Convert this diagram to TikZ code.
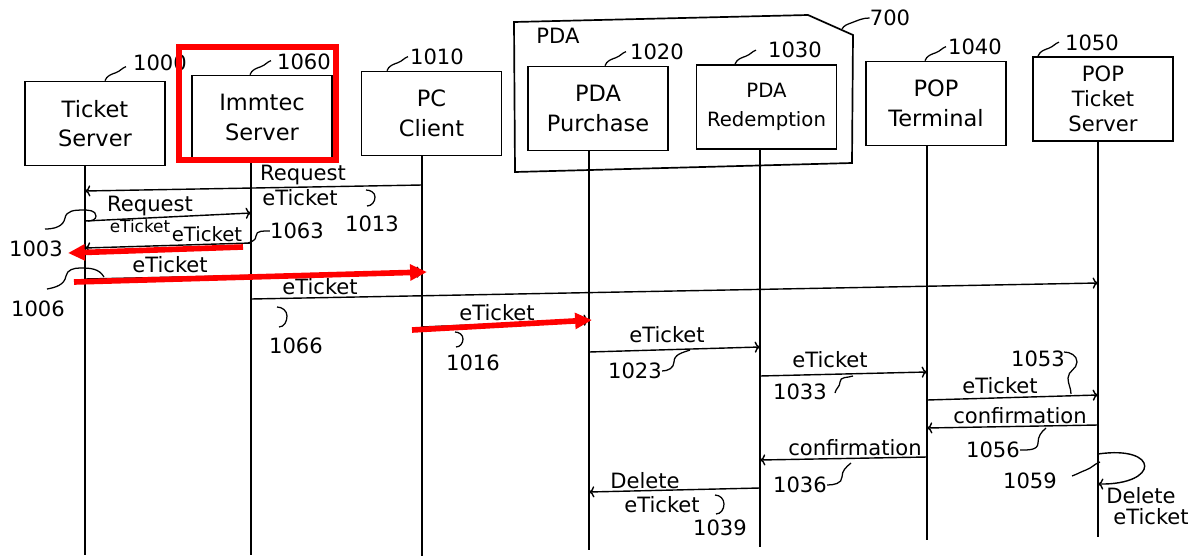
\documentclass[tikz,border=0pt]{standalone}
\usepackage{fontspec}
\setmainfont{DejaVu Sans}
\usetikzlibrary{arrows,arrows.meta}

\begin{document}
\begin{tikzpicture}[x=0.025cm,y=-0.025cm,
		box/.style={draw, line width=1.2pt, minimum width=3.5cm, minimum height=2.1cm, align=center, inner sep=0pt, font=\fontsize{16}{21}\selectfont},
		msg/.style={->, line width=1pt},
		txt/.style={inner sep=0pt, font=\fontsize{15}{18}\selectfont},
		lead/.style={line width=0.9pt},
		hlbox/.style={draw=red, line width=4pt},
		hlarrow/.style={draw=red, line width=4pt, -{Triangle[length=12pt,width=11pt]}}]
	\useasboundingbox (0,0) rectangle (1193,560);

	% PDA housing
	\draw[line width=1.2pt] (514,22) -- (808,15) -- (853,35) -- (852,163) -- (515,172) -- cycle;
	\node[txt] (pda) at (558,36) {PDA};
	\node[txt] (r700) at (890,18) {700};
	\draw[lead] (842,29) to[out=60,in=200] (851,23) to[out=20,in=180] (r700.west);

	% parties
	\node[box] (ts) at (95,123.5) {Ticket\\Server};
	\node[box] (im) at (262,117.5) {Immtec\\Server};
	\node[box] (pc) at (431.5,113.5) {PC\\Client};
	\node[box] (pp) at (598,108.5) {PDA\\Purchase};
	\node[box, font=\fontsize{14}{21}\selectfont] (pr) at (766.5,107) {PDA\\Redemption};
	\node[box] (pt) at (936,103.5) {POP\\Terminal};
	\node[box, font=\fontsize{15}{18}\selectfont] (pts) at (1103,99) {POP\\Ticket\\Server};

	\node[txt] (r1000) at (160,63) {1000};
	\node[txt] (r1060) at (304,62) {1060};
	\node[txt] (r1010) at (437,57) {1010};
	\node[txt] (r1020) at (657,52) {1020};
	\node[txt] (r1030) at (795,50) {1030};
	\node[txt] (r1040) at (975,47) {1040};
	\node[txt] (r1050) at (1092,43) {1050};
	\foreach \n/\x in {ts/105, im/250, pc/387, pp/605, pr/735, pt/925, pts/1038}
	\draw[lead] (\n.north -| \x,0) to[out=70,in=200] ++(11,-8) to[out=20,in=200] ++(10,-6);

	% lifelines
	\foreach \n/\x/\b in {ts/85/555, im/251/555, pc/422/556, pp/589/550, pr/760/547, pt/927/540, pts/1098/537} {
		\coordinate (\n-l) at (\x,\b);
		\draw[line width=1.1pt] (\n.south -| \n-l) -- (\n-l);
	}

	% request from the PC client
	\draw[msg] (pc-l |- 0,185) -- (ts-l |- 0,191);
	\node[txt] (m1a) at (303,175) {Request};
	\node[txt] (m1b) at (300,198) {eTicket};
	\node[txt] (r1013) at (372,224) {1013};
	\draw[lead] (366,190) to[out=0,in=90] (375,197) to[out=-90,in=0] (367,206);

	% ticket server <-> immtec server
	\draw[msg] (ts-l |- 0,221) -- (im-l |- 0,213);
	\node[txt] (m2a) at (150,206) {Request};
	\node[txt, font=\fontsize{12}{14}\selectfont] (m2b) at (140,226) {eTicket};
	\draw[msg] (im-l |- 0,243) -- (ts-l |- 0,248);
	\node[txt, font=\fontsize{14}{16}\selectfont] (m3) at (207,234) {eTicket};
	\node[txt] (r1063) at (297,231) {1063};
	\draw[lead] (248,243) to[out=20,in=-90] (256,236) to[out=90,in=180] (r1063.west);
	\node[txt] (r1003) at (36,249) {1003};
	\draw[lead] (45,229) to[out=0,in=-100] (65,218) to[out=80,in=180] (82,210) to[out=0,in=90] (96,216) to[out=-90,in=0] (88,221);

	% eTicket to the PC client and to the POP ticket server
	\draw[msg] (ts-l |- 0,279) -- (pc-l |- 0,272);
	\node[txt] (m4) at (170,265) {eTicket};
	\node[txt] (r1006) at (38,309) {1006};
	\draw[lead] (47,289) to[out=10,in=-100] (66,276) to[out=80,in=180] (80,268) to[out=0,in=120] (104,277);
	\draw[msg] (im-l |- 0,299) -- (pts-l |- 0,283);
	\node[txt] (m5) at (320,287) {eTicket};
	\node[txt] (r1066) at (296,346) {1066};
	\draw[lead] (277,307) to[out=0,in=90] (287,316) to[out=-90,in=0] (279,327);

	% eTicket along the chain
	\draw[msg] (pc-l |- 0,327) -- (pp-l |- 0,320);
	\node[txt] (m6) at (497,313) {eTicket};
	\node[txt] (r1016) at (473,363) {1016};
	\draw[lead] (455,332) to[out=0,in=90] (463,339) to[out=-90,in=0] (456,347);

	\draw[msg] (pp-l |- 0,352) -- (pr-l |- 0,347);
	\node[txt] (m7) at (667,335) {eTicket};
	\node[txt] (r1023) at (635,371) {1023};
	\draw[lead] (r1023.east) to[out=0,in=-90] (674,362) to[out=90,in=200] (690,350);

	\draw[msg] (pr-l |- 0,376) -- (pt-l |- 0,372);
	\node[txt] (m8) at (830,360) {eTicket};
	\node[txt] (r1033) at (800,392) {1033};
	\draw[lead] (835,393) to[out=80,in=-90] (840,382) to[out=90,in=200] (853,376);

	\draw[msg] (pt-l |- 0,400) -- (pts-l |- 0,395);
	\node[txt] (m9) at (1000,386) {eTicket};
	\node[txt] (r1053) at (1038,359) {1053};
	\draw[lead] (1064,352) to[out=0,in=90] (1077,362) to[out=-90,in=90] (1068,378) to[out=-90,in=90] (1071,394);

	% confirmations
	\draw[msg] (pts-l |- 0,425) -- (pt-l |- 0,428);
	\node[txt] (m10) at (1020,416) {confirmation};
	\node[txt] (r1056) at (993,450) {1056};
	\draw[lead] (r1056.east) to[out=0,in=-90] (1038,443) to[out=90,in=220] (1046,428);

	\draw[msg] (pt-l |- 0,457) -- (pr-l |- 0,460);
	\node[txt] (m11) at (855,448) {confirmation};
	\node[txt] (r1036) at (800,485) {1036};
	\draw[lead] (r1036.east) to[out=0,in=-90] (842,477) to[out=90,in=220] (851,463);

	% delete
	\draw[msg] (pr-l |- 0,488) -- (pp-l |- 0,492);
	\node[txt] (m12a) at (645,481) {Delete};
	\node[txt] (m12b) at (662,505) {eTicket};
	\node[txt] (r1039) at (720,528) {1039};
	\draw[lead] (715,495) to[out=0,in=90] (724,504) to[out=-90,in=0] (716,514);

	\draw[msg] (pts-l |- 0,454) .. controls (1160,445) and (1160,485) .. (pts-l |- 0,484);
	\node[txt] (m13a) at (1141,496) {Delete};
	\node[txt] (m13b) at (1151,517) {eTicket};
	\node[txt] (r1059) at (1030,481) {1059};
	\draw[lead] (1072,476) to[out=20,in=200] (1086,470) to[out=20,in=200] (1100,462);

	% highlights
	\draw[hlbox] (179,47) rectangle (336,160);
	\coordinate (h1s) at (243,247);
	\coordinate (h1e) at (68,253);
	\coordinate (h2s) at (74,282);
	\coordinate (h2e) at (427,272);
	\coordinate (h3s) at (412,330);
	\coordinate (h3e) at (592,320);
	\draw[hlarrow] (h1s) -- (h1e);
	\draw[hlarrow] (h2s) -- (h2e);
	\draw[hlarrow] (h3s) -- (h3e);
\end{tikzpicture}
\end{document}
